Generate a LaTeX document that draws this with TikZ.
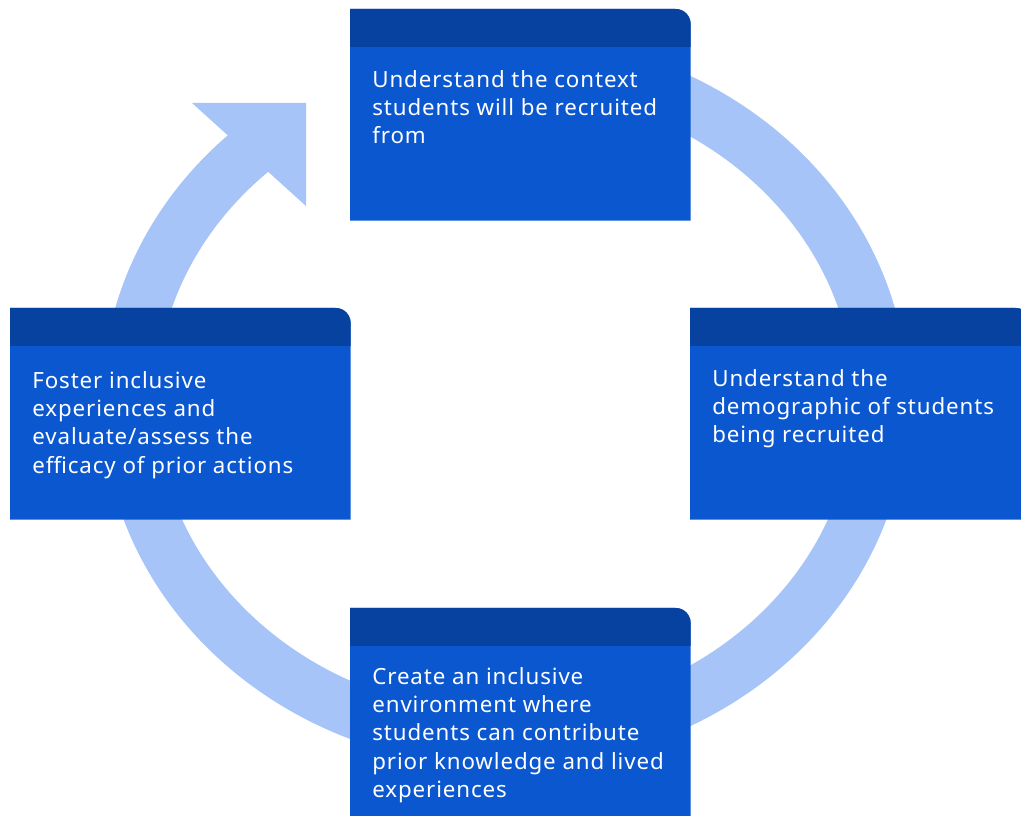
\documentclass[tikz,border=0pt]{standalone}
\usepackage{fontspec}
\setmainfont{Noto Sans}[LetterSpace=4]
\usetikzlibrary{positioning}

\definecolor{ringblue}{HTML}{A6C4F8}
\definecolor{cardblue}{HTML}{0B57D0}
\definecolor{headblue}{HTML}{0842A0}

\begin{document}
\begin{tikzpicture}[
  x=0.02cm, y=0.02cm,
  card/.style={rectangle, inner sep=0pt, minimum width=6.8cm, minimum height=4.22cm, anchor=north west},
  cardbody/.style={fill=cardblue},
  cardhead/.style={fill=headblue},
  cardtext/.style={align=left, inner sep=0pt, text=white, font=\fontsize{12.7}{16.1}\selectfont},
  ring/.style={draw=ringblue, line width=1.08cm},
  ringtip/.style={fill=ringblue}
]
\useasboundingbox (0,0) rectangle (1021,815);
\clip (0,0) rectangle (1021,815);

% cycle ring behind the cards, ending in a wide head at the upper left
\coordinate (hub) at (505,414);
\coordinate (tipA) at (192,712);
\coordinate (tipB) at (306,712);
\coordinate (tipC) at (306,609);
\draw[ring] (hub) ++(90:376 and 339) arc[start angle=90, end angle=-229, x radius=376, y radius=339];
\path[ringtip] (tipA) -- (tipB) -- (tipC) -- cycle;

% the four cards
\node[card] (ctx) at (350,806) {};
\node[card] (demo) at (690,507) {};
\node[card] (env) at (350,207) {};
\node[card] (evalu) at (10,507) {};

\path[cardbody] (ctx.south west) -- (ctx.north west) -- ([xshift=-0.3cm]ctx.north east) arc[start angle=90, end angle=0, radius=0.3cm] -- (ctx.south east) -- cycle;
\path[cardhead] (ctx.north west) -- ([xshift=-0.3cm]ctx.north east) arc[start angle=90, end angle=0, radius=0.3cm] -- ([yshift=-0.76cm]ctx.north east) -- ([yshift=-0.76cm]ctx.north west) -- cycle;

\path[cardbody] (demo.south west) -- (demo.north west) -- ([xshift=-0.3cm]demo.north east) arc[start angle=90, end angle=0, radius=0.3cm] -- (demo.south east) -- cycle;
\path[cardhead] (demo.north west) -- ([xshift=-0.3cm]demo.north east) arc[start angle=90, end angle=0, radius=0.3cm] -- ([yshift=-0.76cm]demo.north east) -- ([yshift=-0.76cm]demo.north west) -- cycle;

\path[cardbody] (env.south west) -- (env.north west) -- ([xshift=-0.3cm]env.north east) arc[start angle=90, end angle=0, radius=0.3cm] -- (env.south east) -- cycle;
\path[cardhead] (env.north west) -- ([xshift=-0.3cm]env.north east) arc[start angle=90, end angle=0, radius=0.3cm] -- ([yshift=-0.76cm]env.north east) -- ([yshift=-0.76cm]env.north west) -- cycle;

\path[cardbody] (evalu.south west) -- (evalu.north west) -- ([xshift=-0.3cm]evalu.north east) arc[start angle=90, end angle=0, radius=0.3cm] -- (evalu.south east) -- cycle;
\path[cardhead] (evalu.north west) -- ([xshift=-0.3cm]evalu.north east) arc[start angle=90, end angle=0, radius=0.3cm] -- ([yshift=-0.76cm]evalu.north east) -- ([yshift=-0.76cm]evalu.north west) -- cycle;

% card texts
\node[cardtext, below right=1.22cm and 0.44cm of ctx.north west] (ctxtext) {Understand the context\\students will be recruited\\from};
\node[cardtext, below right=1.22cm and 0.44cm of demo.north west] (demotext) {Understand the\\demographic of students\\being recruited};
\node[cardtext, below right=1.18cm and 0.44cm of env.north west] (envtext) {Create an inclusive\\environment where\\students can contribute\\prior knowledge and lived\\experiences};
\node[cardtext, below right=1.26cm and 0.44cm of evalu.north west] (evalutext) {Foster inclusive\\experiences and\\evaluate/assess the\\efficacy of prior actions};
\end{tikzpicture}
\end{document}
